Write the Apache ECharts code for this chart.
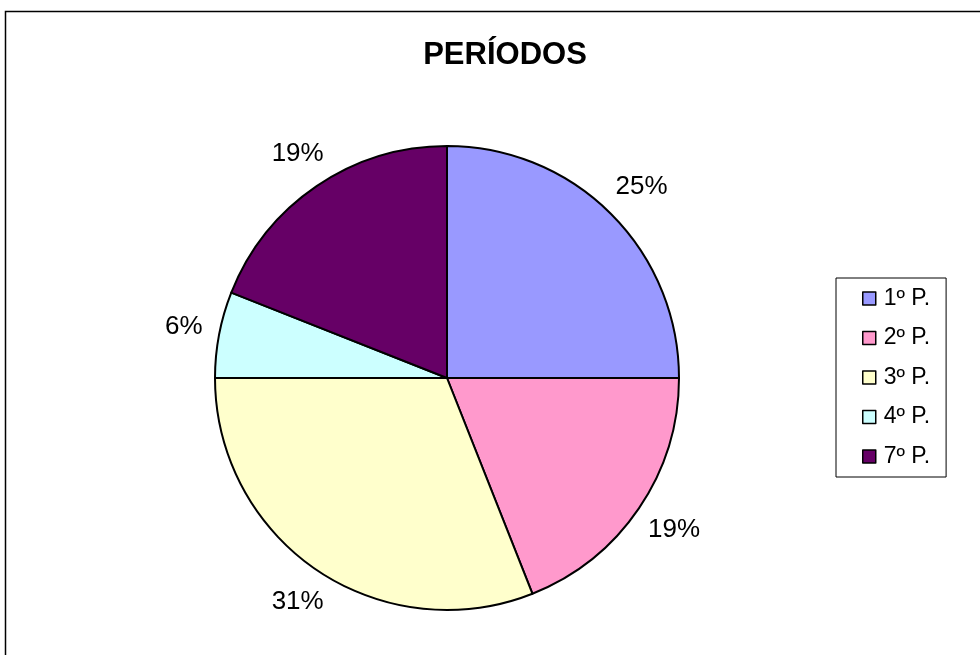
<!DOCTYPE html>
<html><head><meta charset="utf-8">
<script src="https://cdn.jsdelivr.net/npm/echarts@6/dist/echarts.min.js"></script>
<style>html,body{margin:0;padding:0;background:#fff}#c{width:980px;height:655px}</style>
</head><body><div id="c"></div>
<script>
const categories = ['1º P.', '2º P.', '3º P.', '4º P.', '7º P.'];
const values = [25, 19, 31, 6, 19];
const colors = ['#9999FF', '#FF99CC', '#FFFFCC', '#CCFFFF', '#660066'];
const titleText = 'PERÍODOS';

const FONT = 'Liberation Sans, Arial, sans-serif';
const chart = echarts.init(document.getElementById('c'), null, {renderer: 'canvas'});
chart.setOption({
  animation: false,
  backgroundColor: '#fff',
  title: {
    text: titleText, left: 500, top: 35, textAlign: 'center',
    textStyle: {fontFamily: FONT, fontWeight: 'bold', fontSize: 31, color: '#000'}
  },
  legend: {
    orient: 'vertical', left: 836, top: 278,
    padding: [9, 16, 9, 26],
    borderColor: '#000', borderWidth: 1,
    itemWidth: 13, itemHeight: 13, itemGap: 16.5,
    icon: 'rect',
    itemStyle: {borderColor: '#000', borderWidth: 1.5},
    textStyle: {fontFamily: FONT, fontSize: 23, color: '#000', padding: [0,0,0,3], lineHeight: 22},
    data: categories
  },
  graphic: [{
    type: 'rect', shape: {x: 5.5, y: 11.5, width: 1000, height: 1000},
    style: {fill: 'none', stroke: '#000', lineWidth: 1.5}, silent: true
  }],
  series: [{
    type: 'pie',
    center: [447, 378], radius: 232,
    startAngle: 90, clockwise: true,
    color: colors,
    itemStyle: {borderColor: '#000', borderWidth: 2},
    label: {show: false},
    labelLine: {show: false},
    emphasis: {disabled: true},
    data: categories.map((n, i) => ({name: n, value: values[i]}))
  }, {
    type: 'pie',
    center: [450, 378], radius: [246, 290],
    startAngle: 90, clockwise: true,
    silent: true,
    itemStyle: {color: 'rgba(0,0,0,0)', borderWidth: 0},
    label: {
      show: true, position: 'inside',
      formatter: p => Math.round(p.percent) + '%',
      fontFamily: FONT, fontSize: 26, color: '#000'
    },
    labelLine: {show: false},
    emphasis: {disabled: true},
    data: categories.map((n, i) => ({name: n, value: values[i]}))
  }]
});
</script></body></html>
